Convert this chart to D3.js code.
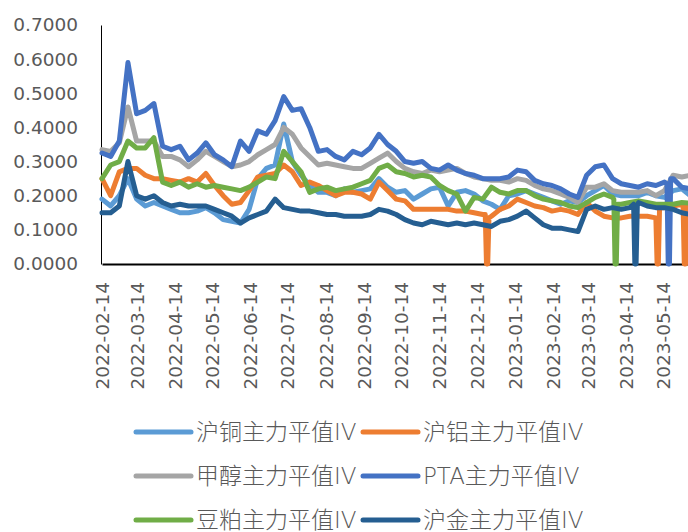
<!DOCTYPE html>
<html>
<head>
<meta charset="utf-8">
<script src="https://cdn.jsdelivr.net/npm/d3@7"></script>
<style>
  html, body { margin: 0; padding: 0; background: #fff; overflow: hidden; }
  svg { display: block; }
  .tick text { font-family: "DejaVu Sans", "Noto Sans CJK SC", sans-serif; font-size: 18.5px; fill: #595959; }
  .legend text { font-family: "DejaVu Sans", "Noto Sans CJK SC", sans-serif; font-size: 23px; font-weight: 300; fill: #595959; }
</style>
</head>
<body>
<script>
// weekly samples, starting 2022-02-14
var startDate = "2022-02-14";
var weekCount = 69;

var seriesNames = ["沪铜主力平值IV", "沪铝主力平值IV", "甲醇主力平值IV", "PTA主力平值IV", "豆粕主力平值IV", "沪金主力平值IV"];
var seriesColors = ["#5B9BD5", "#ED7D31", "#A5A5A5", "#4472C4", "#70AD47", "#255E91"];

var cu = [0.19, 0.17, 0.20, 0.25, 0.19, 0.17, 0.18, 0.17, 0.16, 0.15, 0.15, 0.155,
  0.165, 0.15, 0.13, 0.125, 0.12, 0.16, 0.25, 0.28, 0.29, 0.41, 0.30,
  0.26, 0.23, 0.21, 0.21, 0.20, 0.22, 0.21, 0.215, 0.22, 0.25, 0.225,
  0.21, 0.215, 0.19, 0.205, 0.22, 0.225, 0.17, 0.21, 0.215, 0.205, 0.185, 0.175,
  0.16, 0.20, 0.205, 0.215, 0.205, 0.195, 0.185, 0.175, 0.185, 0.18, 0.20,
  0.215, 0.23, 0.205, 0.20, 0.20, 0.20, 0.21, 0.20, 0.195, 0.215, 0.22, 0.20];

var al = [0.25, 0.20, 0.27, 0.28, 0.28, 0.26, 0.25, 0.25, 0.245, 0.24, 0.25, 0.24,
  0.265, 0.23, 0.20, 0.175, 0.18, 0.215, 0.255, 0.26, 0.265, 0.29, 0.27,
  0.23, 0.24, 0.23, 0.215, 0.20, 0.21, 0.21, 0.205, 0.19, 0.24, 0.215,
  0.19, 0.185, 0.16, 0.16, 0.16, 0.16, 0.16, 0.155, 0.155, 0.15, 0.145, 0.14,
  0.16, 0.17, 0.19, 0.18, 0.17, 0.165, 0.155, 0.16, 0.155, 0.145, 0.18,
  0.155, 0.14, 0.135, 0.135, 0.14, 0.14, 0.14, 0.135, 0.165, 0.17, 0.175, 0.17];

var meoh = [0.335, 0.33, 0.355, 0.46, 0.36, 0.36, 0.36, 0.315, 0.315, 0.305, 0.285, 0.305,
  0.33, 0.315, 0.30, 0.285, 0.29, 0.30, 0.32, 0.335, 0.35, 0.40, 0.38,
  0.34, 0.315, 0.29, 0.295, 0.29, 0.285, 0.28, 0.28, 0.295, 0.31, 0.325,
  0.30, 0.28, 0.27, 0.265, 0.275, 0.27, 0.275, 0.28, 0.265, 0.255, 0.25, 0.245,
  0.245, 0.24, 0.25, 0.245, 0.23, 0.22, 0.215, 0.205, 0.195, 0.18, 0.225,
  0.225, 0.235, 0.215, 0.21, 0.21, 0.21, 0.215, 0.20, 0.215, 0.26, 0.255, 0.26];

var pta = [0.325, 0.315, 0.36, 0.59, 0.44, 0.45, 0.47, 0.345, 0.335, 0.345, 0.305, 0.325,
  0.355, 0.32, 0.305, 0.285, 0.36, 0.33, 0.39, 0.38, 0.42, 0.49, 0.45,
  0.455, 0.40, 0.33, 0.335, 0.315, 0.305, 0.33, 0.32, 0.34, 0.38, 0.35,
  0.33, 0.30, 0.295, 0.30, 0.28, 0.275, 0.29, 0.275, 0.265, 0.26, 0.25, 0.25,
  0.25, 0.255, 0.275, 0.27, 0.245, 0.235, 0.23, 0.22, 0.205, 0.195, 0.26,
  0.285, 0.29, 0.25, 0.235, 0.23, 0.225, 0.235, 0.23, 0.24, 0.25, 0.225, 0.22];

var meal = [0.25, 0.29, 0.30, 0.36, 0.34, 0.34, 0.37, 0.24, 0.23, 0.24, 0.225, 0.235,
  0.225, 0.23, 0.225, 0.22, 0.215, 0.225, 0.24, 0.255, 0.25, 0.33, 0.30,
  0.27, 0.21, 0.22, 0.225, 0.215, 0.22, 0.225, 0.235, 0.245, 0.28, 0.29,
  0.27, 0.265, 0.255, 0.26, 0.255, 0.23, 0.215, 0.205, 0.155, 0.195, 0.19, 0.225,
  0.21, 0.205, 0.215, 0.215, 0.20, 0.19, 0.185, 0.18, 0.17, 0.165, 0.18,
  0.195, 0.205, 0.195, 0.175, 0.18, 0.185, 0.18, 0.175, 0.175, 0.175, 0.18, 0.178];

var au = [0.15, 0.15, 0.17, 0.30, 0.20, 0.19, 0.20, 0.18, 0.17, 0.175, 0.17, 0.17,
  0.17, 0.16, 0.15, 0.14, 0.12, 0.135, 0.145, 0.155, 0.19, 0.165, 0.16,
  0.155, 0.155, 0.15, 0.145, 0.145, 0.14, 0.14, 0.14, 0.145, 0.16, 0.155,
  0.145, 0.13, 0.12, 0.115, 0.125, 0.12, 0.115, 0.12, 0.115, 0.12, 0.115, 0.11,
  0.125, 0.13, 0.14, 0.155, 0.135, 0.115, 0.105, 0.105, 0.10, 0.095, 0.16,
  0.17, 0.16, 0.165, 0.16, 0.165, 0.18, 0.17, 0.165, 0.165, 0.16, 0.15, 0.145];

// single-day drops to zero (date, level just before, level just after)
var drops = [
  {series: 1, date: "2022-12-22", before: 0.145, after: 0.135},
  {series: 4, date: "2023-04-05", before: 0.19, after: 0.175},
  {series: 5, date: "2023-04-21", before: 0.175, after: 0.17},
  {series: 1, date: "2023-05-09", before: 0.135, after: 0.165},
  {series: 3, date: "2023-05-18", before: 0.235, after: 0.25},
  {series: 1, date: "2023-05-31", before: 0.175, after: 0.17}
];

var yTicks = [0, 0.1, 0.2, 0.3, 0.4, 0.5, 0.6, 0.7];
var xTickLabels = ["2022-02-14", "2022-03-14", "2022-04-14", "2022-05-14", "2022-06-14", "2022-07-14",
  "2022-08-14", "2022-09-14", "2022-10-14", "2022-11-14", "2022-12-14", "2023-01-14",
  "2023-02-14", "2023-03-14", "2023-04-14", "2023-05-14"];

var allValues = [cu, al, meoh, pta, meal, au];

var parse = d3.timeParse("%Y-%m-%d");
var fmt = d3.timeFormat("%Y-%m-%d");
var dates = d3.range(weekCount).map(function(i) { return d3.timeDay.offset(parse(startDate), 7 * i); });

var W = 688, H = 532;
var svg = d3.select('body').append('svg').attr('width', W).attr('height', H);

var x = d3.scaleTime()
  .domain([parse("2022-02-14"), parse("2023-06-03")])
  .range([102, 688]);
var y = d3.scaleLinear().domain([0, 0.7]).range([264, 25]);

// build points of each series
var series = allValues.map(function(vals, si) {
  var pts = vals.map(function(v, i) { return {date: dates[i], value: v}; });
  drops.filter(function(d) { return d.series === si; }).forEach(function(d) {
    var d0 = parse(d.date);
    var a = d3.timeDay.offset(d0, -1), b = d3.timeDay.offset(d0, 2);
    pts = pts.filter(function(p) { return p.date < a || p.date > b; });
    pts.push({date: a, value: d.before});
    pts.push({date: d0, value: 0});
    pts.push({date: d3.timeDay.offset(d0, 1), value: 0});
    pts.push({date: b, value: d.after});
  });
  pts.sort(function(p, q) { return p.date - q.date; });
  return {name: seriesNames[si], color: seriesColors[si], points: pts};
});

// y axis
var yAxis = svg.append('g')
  .attr('transform', 'translate(101,0)')
  .call(d3.axisLeft(y).tickValues(yTicks).tickFormat(d3.format('.4f')).tickSize(0).tickSizeOuter(0).tickPadding(23));
yAxis.select('.domain').attr('stroke', '#000').attr('stroke-width', 1);

// x axis
var xAxis = svg.append('g')
  .attr('transform', 'translate(0,264)')
  .call(d3.axisBottom(x).tickValues(xTickLabels.map(parse)).tickFormat(fmt).tickSize(0).tickSizeOuter(0));
xAxis.select('.domain').attr('stroke', '#000').attr('stroke-width', 2);
xAxis.selectAll('text')
  .attr('transform', 'rotate(-90)')
  .attr('x', -18)
  .attr('y', 0)
  .attr('dy', '0.35em')
  .style('text-anchor', 'end');

// lines
var line = d3.line()
  .x(function(d) { return x(d.date); })
  .y(function(d) { return y(d.value); });

svg.append('g').selectAll('path')
  .data(series)
  .enter().append('path')
  .attr('d', function(d) { return line(d.points); })
  .attr('fill', 'none')
  .attr('stroke', function(d) { return d.color; })
  .attr('stroke-width', 5)
  .attr('stroke-linejoin', 'round')
  .attr('stroke-linecap', 'round');

// legend, 2 columns x 3 rows
var legend = svg.append('g').attr('class', 'legend');
var colX = [136, 363], rowY = [432, 476, 520];
series.forEach(function(s, i) {
  var lx = colX[i % 2], ly = rowY[Math.floor(i / 2)];
  legend.append('line')
    .attr('x1', lx).attr('x2', lx + 55)
    .attr('y1', ly).attr('y2', ly)
    .attr('stroke', s.color)
    .attr('stroke-width', 5)
    .attr('stroke-linecap', 'round');
  legend.append('text')
    .attr('x', lx + 60)
    .attr('y', ly)
    .attr('dy', '0.36em')
    .text(s.name);
});
</script>
</body>
</html>
